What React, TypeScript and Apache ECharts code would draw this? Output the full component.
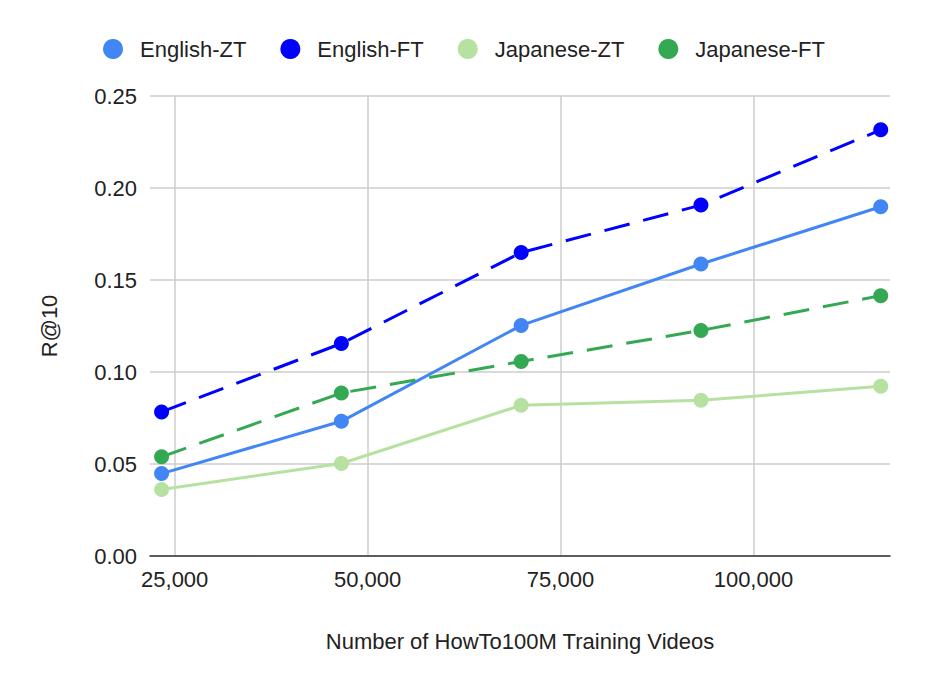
import React, { useEffect, useRef } from "react";
import * as echarts from "echarts";

const videos = [23300, 46600, 69900, 93200, 116500];
const englishZT = [0.0448, 0.0732, 0.1253, 0.1587, 0.1898];
const englishFT = [0.0783, 0.1155, 0.1649, 0.1907, 0.2316];
const japaneseZT = [0.0362, 0.0503, 0.0819, 0.0846, 0.0922];
const japaneseFT = [0.0539, 0.0886, 0.1057, 0.1226, 0.1415];
const xTicks = [25000, 50000, 75000, 100000];

const FONT = "'Liberation Sans', Arial, sans-serif";
const FS = 22;

export default function App() {
  const ref = useRef<HTMLDivElement>(null);
  useEffect(() => {
    if (!ref.current) return;
    const chart = echarts.init(ref.current, null, { renderer: "svg" });
    const mk = (name: string, vals: number[], color: string, dashed: boolean) => ({
      name,
      type: "line",
      data: videos.map((v, i) => [v, vals[i]]),
      symbol: "circle",
      symbolSize: 15,
      itemStyle: { color },
      lineStyle: { color, width: 3, type: dashed ? [26, 14] : "solid" },
      emphasis: { disabled: true },
    });
    chart.setOption({
      animation: false,
      textStyle: { fontFamily: FONT },
      legend: {
        top: 25,
        left: 90,
        icon: "circle",
        itemWidth: 44,
        itemHeight: 20,
        itemGap: 34,
        textStyle: { fontSize: FS, color: "#222", fontFamily: FONT },
        data: ["English-ZT", "English-FT", "Japanese-ZT", "Japanese-FT"],
      },
      grid: { left: 142, right: 28, top: 88, bottom: 123, containLabel: false },
      xAxis: {
        type: "value",
        min: 21800,
        max: 117700,
        name: "Number of HowTo100M Training Videos",
        nameLocation: "middle",
        nameGap: 74,
        nameTextStyle: { fontSize: FS, color: "#222", fontFamily: FONT },
        axisLine: { show: true, lineStyle: { color: "#333", width: 1.5 } },
        axisTick: { show: false, customValues: xTicks },
        axisLabel: {
          customValues: xTicks,
          fontSize: FS,
          color: "#222",
          margin: 12,
          fontFamily: FONT,
          formatter: (v: number) => v.toLocaleString("en-US"),
        },
        splitLine: { show: true, lineStyle: { color: "#ccc", width: 1.5 } },
      },
      yAxis: {
        type: "value",
        min: 0,
        max: 0.25,
        interval: 0.05,
        name: "R@10",
        nameLocation: "middle",
        nameGap: 90,
        nameRotate: 90,
        nameTextStyle: { fontSize: FS, color: "#222", fontFamily: FONT },
        axisLine: { show: false },
        axisTick: { show: false },
        axisLabel: {
          fontSize: FS,
          color: "#222",
          margin: 13,
          fontFamily: FONT,
          formatter: (v: number) => v.toFixed(2),
        },
        splitLine: { show: true, lineStyle: { color: "#ccc", width: 1.5 } },
      },
      series: [
        mk("Japanese-ZT", japaneseZT, "#b7e1a1", false),
        mk("English-ZT", englishZT, "#4285f4", false),
        mk("Japanese-FT", japaneseFT, "#34a853", true),
        mk("English-FT", englishFT, "#0000ff", true),
      ],
    });
    return () => chart.dispose();
  }, []);
  return <div ref={ref} style={{ width: 910, height: 671 }} />;
}
